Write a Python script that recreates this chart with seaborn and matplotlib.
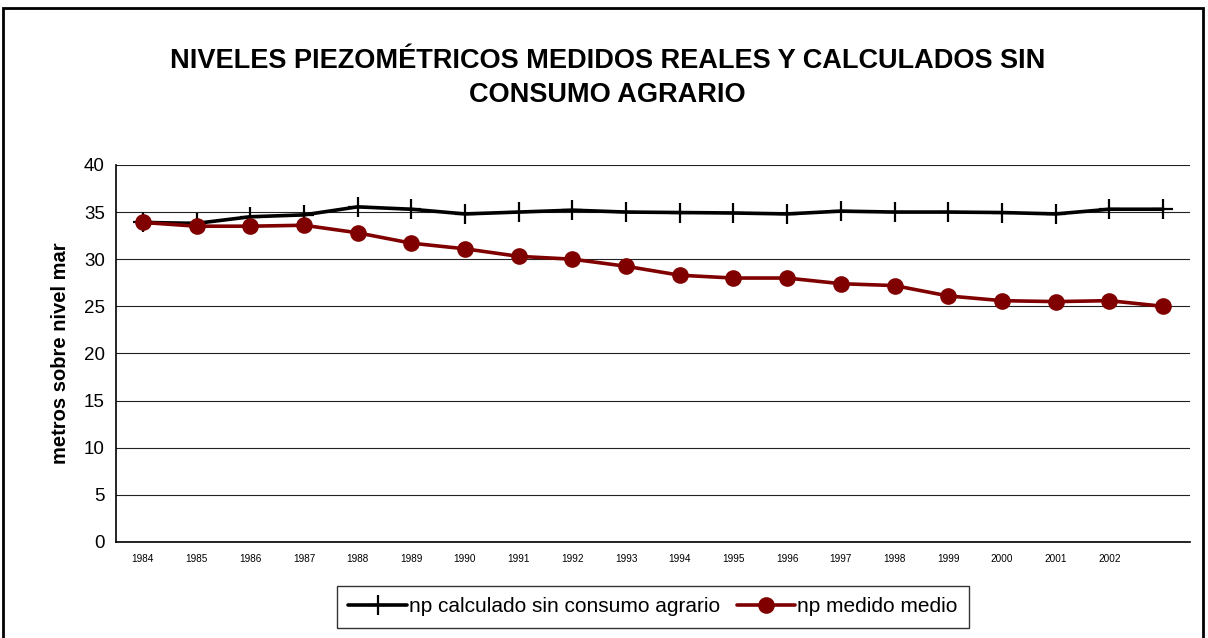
import numpy as np
import pandas as pd
import matplotlib
matplotlib.use('Agg')
import matplotlib.pyplot as plt
import seaborn as sns
from matplotlib.patches import Rectangle

# --- datos ---
years = [1984, 1985, 1986, 1987, 1988, 1989, 1990, 1991, 1992, 1993,
         1994, 1995, 1996, 1997, 1998, 1999, 2000, 2001, 2002, 2003]
year_labels = [str(y) for y in years[:-1]] + ['']
np_calculado = [33.9, 33.8, 34.5, 34.7, 35.55, 35.3, 34.8, 35.0, 35.2, 35.0,
                34.95, 34.9, 34.8, 35.1, 35.0, 35.0, 34.95, 34.8, 35.3, 35.3]
np_medido = [33.9, 33.5, 33.5, 33.6, 32.8, 31.7, 31.1, 30.3, 30.0, 29.25,
             28.3, 28.0, 28.0, 27.4, 27.2, 26.1, 25.6, 25.5, 25.6, 25.0]
yticks = [0, 5, 10, 15, 20, 25, 30, 35, 40]

lbl_calc = 'np calculado sin consumo agrario'
lbl_med = 'np medido medio'

pos = np.arange(len(years))
df = pd.DataFrame({'pos': pos, 'calc': np_calculado, 'medido': np_medido})

sns.set_style('white')
plt.rcParams['font.family'] = ['Liberation Sans', 'DejaVu Sans']
plt.rcParams['text.color'] = 'black'
plt.rcParams['axes.labelcolor'] = 'black'
plt.rcParams['xtick.color'] = 'black'
plt.rcParams['ytick.color'] = 'black'

fig = plt.figure(figsize=(12.08, 6.38), dpi=100)
ax = fig.add_axes([0.096, 0.1505, 0.889, 0.591])

# una llamada por serie ('+' y 'o' no se pueden mezclar en style)
sns.lineplot(data=df, x='pos', y='calc', color='black', marker='+',
             markersize=15, markeredgewidth=1.6, markeredgecolor='black',
             linewidth=2.6, label=lbl_calc, ax=ax)
sns.lineplot(data=df, x='pos', y='medido', color='#800000', marker='o',
             markersize=12, markeredgewidth=0, linewidth=2.6,
             label=lbl_med, ax=ax)

ax.set_xlim(-0.5, len(years) - 0.5)
ax.set_ylim(0, 40)
ax.set_yticks(yticks)
ax.set_yticklabels([str(v) for v in yticks], fontsize=13.5)
ax.set_xticks(pos)
ax.set_xticklabels(year_labels, fontsize=7.2)
ax.set_xticks(np.arange(-0.5, len(years)), minor=True)
ax.tick_params(axis='x', which='major', length=0, pad=9)
ax.tick_params(axis='x', which='minor', length=4, width=1, color='black', direction='out')
ax.tick_params(axis='y', which='major', length=5, width=1, color='black', direction='out', pad=3)
ax.yaxis.grid(True, color='#222222', linewidth=0.8)
ax.xaxis.grid(False)
for s in ['top', 'right']:
    ax.spines[s].set_visible(False)
for s in ['left', 'bottom']:
    ax.spines[s].set_color('black')
    ax.spines[s].set_linewidth(1.2)
ax.set_xlabel('')
ax.set_ylabel('metros sobre nivel mar', fontsize=14.5, fontweight='bold', labelpad=10)

ax.legend(loc='upper center', bbox_to_anchor=(0.5, -0.105), ncol=2, fontsize=15,
          frameon=True, fancybox=False, edgecolor='black', handlelength=2.8,
          handletextpad=0.1, columnspacing=0.8, borderpad=0.55, borderaxespad=0.2)

fig.text(0.503, 0.878, 'NIVELES PIEZOMÉTRICOS MEDIDOS REALES Y CALCULADOS SIN\nCONSUMO AGRARIO',
         ha='center', va='center', fontsize=19.5, fontweight='bold', linespacing=1.4)

fig.patches.append(Rectangle((3 / 1208, -0.02), 1200 / 1208, 1.02 - 8 / 638,
                             transform=fig.transFigure, fill=False,
                             edgecolor='black', linewidth=2))

plt.savefig('out.png', dpi=100)
plt.close()
